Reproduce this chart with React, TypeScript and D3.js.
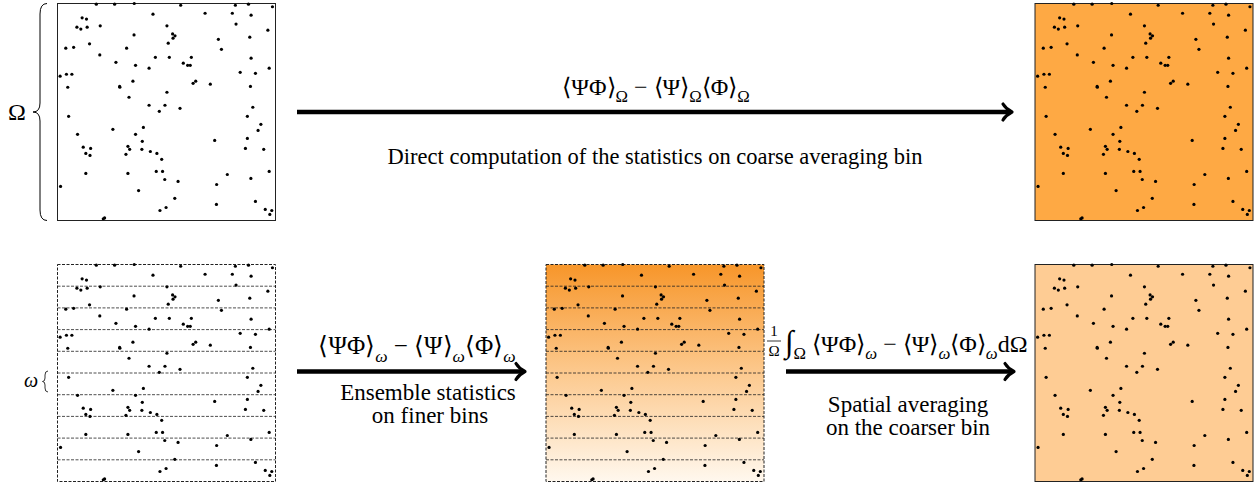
import React from "react";
import * as d3 from "d3";

const W = 1257;
const H = 487;
const FONT = "'Liberation Serif', 'Times New Roman', serif";

// particle positions, in % of the box (x from left, y from top)
const dots: [number, number][] = [
  [17.8, 0.3], [26.2, 0.3], [35.2, 0], [56.5, 0.8], [81.6, 0.8], [87.6, 0.3], [98.6, 1.5],
  [43.8, 4.9], [67.7, 4.5], [80.2, 4.5], [88.8, 5.4], [11.3, 6.6], [13.3, 7.2],
  [8.9, 10.9], [10.7, 11.8], [13.6, 10.9], [19.6, 10.3], [50.2, 10.3], [81.9, 9.5], [96.5, 12.3],
  [35.1, 14.5], [52.8, 14.0], [53.9, 14.9], [53.0, 16.0], [88.2, 15.5], [73.8, 16.5],
  [50.8, 18.3], [14.7, 18.6], [3.8, 20.6], [7.4, 20.2], [31.7, 20.6], [75.2, 21.1],
  [19.4, 23.7], [44.9, 24.8], [51.3, 24.8], [61.4, 24.8], [88.8, 25.2],
  [26.8, 27.1], [57.7, 27.5], [59.7, 28.5], [60.9, 28.5], [35.8, 28.5], [42.0, 29.8], [97.1, 29.8],
  [83.8, 31.7], [90.8, 32.2], [1.2, 33.5], [4.1, 32.6], [6.6, 32.6],
  [34.6, 35.8], [62.2, 36.8], [63.4, 35.8], [70.1, 37.2], [4.7, 38.6], [28.5, 38.2], [28.6, 38.6], [88.5, 38.2],
  [50.2, 40.9], [32.8, 43.2], [42.0, 46.9], [49.3, 46.9], [56.2, 48.3], [89.6, 47.8], [46.7, 49.7],
  [5.1, 52.0], [87.1, 52.0], [93.3, 55.7], [39.4, 57.1], [25.4, 58.0], [92.0, 58.5],
  [9.2, 60.3], [35.8, 60.3], [87.1, 62.2], [72.1, 63.1], [38.9, 63.5],
  [11.8, 66.2], [15.2, 66.8], [32.3, 65.8], [33.1, 67.2], [38.7, 67.2], [42.6, 68.2], [45.6, 69.1],
  [86.2, 66.8], [94.6, 67.2], [13.0, 69.1], [14.9, 70.0], [31.4, 69.5], [47.8, 71.8],
  [13.0, 78.3], [32.3, 78.3], [45.3, 77.4], [48.2, 77.4], [77.9, 78.8], [97.1, 77.4],
  [49.2, 81.1], [88.7, 80.6], [55.3, 82.0], [1.4, 84.3], [73.0, 83.4], [37.2, 86.2],
  [53.8, 89.8], [90.8, 91.2], [72.9, 92.6], [49.8, 94.0], [47.0, 95.4],
  [95.3, 94.9], [98.3, 95.4], [97.4, 97.2], [21.6, 98.8], [21.0, 99.2],
];

const nBins = 10;
const binLines = d3.range(1, nBins);

type Part = { t: string; sub?: boolean; it?: boolean; big?: boolean };

const coarseFormula: Part[] = [
  { t: "⟨ΨΦ⟩" }, { t: "Ω", sub: true }, { t: " − ⟨Ψ⟩" }, { t: "Ω", sub: true },
  { t: "⟨Φ⟩" }, { t: "Ω", sub: true },
];
const fineFormula: Part[] = [
  { t: "⟨ΨΦ⟩" }, { t: "ω", sub: true, it: true }, { t: " − ⟨Ψ⟩" }, { t: "ω", sub: true, it: true },
  { t: "⟨Φ⟩" }, { t: "ω", sub: true, it: true },
];
const avgFormula: Part[] = [
  { t: "∫", big: true }, { t: "Ω", sub: true }, { t: " ⟨ΨΦ⟩" }, { t: "ω", sub: true, it: true },
  { t: " − ⟨Ψ⟩" }, { t: "ω", sub: true, it: true }, { t: "⟨Φ⟩" }, { t: "ω", sub: true, it: true },
  { t: "dΩ" },
];

const BW = 218;
const BH = 217;

const boxes = [
  { x: 57.5, y: 3.5, fill: "#ffffff", dashed: false, bins: false },
  { x: 1035, y: 3.5, fill: "#fea944", dashed: false, bins: false },
  { x: 57.5, y: 264.5, fill: "#ffffff", dashed: true, bins: true },
  { x: 546, y: 264.5, fill: "url(#binGrad)", dashed: true, bins: true },
  { x: 1035, y: 264.5, fill: "#fecc94", dashed: false, bins: false },
];

function Formula({ x, y, size, parts, anchor = "middle" }: { x: number; y: number; size: number; parts: Part[]; anchor?: string }) {
  let down = false;
  const shift = size * 0.3;
  return (
    <text x={x} y={y} fontSize={size} fontFamily={FONT} textAnchor={anchor} fill="#000">
      {parts.map((p, i) => {
        let dy = 0;
        if (p.sub && !down) dy = shift;
        if (!p.sub && down) dy = -shift;
        down = !!p.sub;
        const fs = p.sub ? size * 0.7 : p.big ? size * 1.3 : size;
        return (
          <tspan key={i} dy={dy} fontSize={fs} fontStyle={p.it ? "italic" : undefined}>
            {p.t}
          </tspan>
        );
      })}
    </text>
  );
}

function Arrow({ x1, x2, y }: { x1: number; x2: number; y: number }) {
  const p = d3.path();
  p.moveTo(x2 - 9, y - 8);
  p.bezierCurveTo(x2 - 6, y - 3, x2 - 2, y - 1, x2, y);
  p.bezierCurveTo(x2 - 2, y + 1, x2 - 6, y + 3, x2 - 9, y + 8);
  return (
    <g>
      <line x1={x1} x2={x2 - 1.5} y1={y} y2={y} stroke="#000" strokeWidth={4.5} />
      <path d={p.toString()} fill="none" stroke="#000" strokeWidth={3.2} strokeLinecap="round" strokeLinejoin="round" />
    </g>
  );
}

function Box({ b }: { b: typeof boxes[number] }) {
  const sx = d3.scaleLinear().domain([0, 100]).range([b.x, b.x + BW]);
  const sy = d3.scaleLinear().domain([0, 100]).range([b.y, b.y + BH]);
  const by = d3.scaleLinear().domain([0, nBins]).range([b.y, b.y + BH]);
  return (
    <g>
      <rect x={b.x} y={b.y} width={BW} height={BH} fill={b.fill} stroke="#222" strokeWidth={1}
        strokeDasharray={b.dashed ? "3,1.5" : undefined} />
      {b.bins && binLines.map((i) => (
        <line key={i} x1={b.x} x2={b.x + BW} y1={by(i)} y2={by(i)} stroke="#222" strokeWidth={0.8} strokeDasharray="3,1.5" />
      ))}
      {dots.map(([u, v], i) => (
        <circle key={i} cx={sx(u)} cy={sy(v)} r={1.6} fill="#000" />
      ))}
    </g>
  );
}

export default function App() {
  const brace = d3.path();
  brace.moveTo(47, 3.5);
  brace.quadraticCurveTo(40, 3.5, 40, 14);
  brace.lineTo(40, 103);
  brace.quadraticCurveTo(40, 112, 33, 112);
  brace.quadraticCurveTo(40, 112, 40, 121);
  brace.lineTo(40, 210);
  brace.quadraticCurveTo(40, 220.5, 47, 220.5);

  const small = d3.path();
  small.moveTo(48, 371);
  small.quadraticCurveTo(45, 371, 45, 375);
  small.lineTo(45, 378);
  small.quadraticCurveTo(45, 381.5, 42.5, 381.5);
  small.quadraticCurveTo(45, 381.5, 45, 385);
  small.lineTo(45, 388);
  small.quadraticCurveTo(45, 392, 48, 392);

  return (
    <svg width={W} height={H} style={{ position: "absolute", left: 0, top: 0, background: "#fff" }}>
      <defs>
        <linearGradient id="binGrad" x1="0" y1="0" x2="0" y2="1">
          <stop offset="0" stopColor="#f7962a" />
          <stop offset="0.5" stopColor="#fcc98e" />
          <stop offset="1" stopColor="#fff8ee" />
        </linearGradient>
      </defs>
      {boxes.map((b, i) => <Box key={i} b={b} />)}

      <path d={brace.toString()} fill="none" stroke="#000" strokeWidth={1} />
      <text x={17} y={120} fontSize={24} fontFamily={FONT} textAnchor="middle">Ω</text>
      <path d={small.toString()} fill="none" stroke="#000" strokeWidth={0.8} />
      <text x={31} y={387} fontSize={20} fontFamily={FONT} fontStyle="italic" textAnchor="middle">ω</text>

      <Arrow x1={297} x2={1012} y={112} />
      <Formula x={656} y={95} size={24} parts={coarseFormula} />
      <text x={655} y={164} fontSize={22.5} fontFamily={FONT} textAnchor="middle">
        Direct computation of the statistics on coarse averaging bin
      </text>

      <Arrow x1={297} x2={525} y={371.5} />
      <Formula x={417} y={354} size={25} parts={fineFormula} />
      <text x={428} y={400} fontSize={23} fontFamily={FONT} textAnchor="middle">Ensemble statistics</text>
      <text x={430} y={423} fontSize={23} fontFamily={FONT} textAnchor="middle">on finer bins</text>

      <Arrow x1={786} x2={1014} y={371.5} />
      <text x={774} y={336} fontSize={15} fontFamily={FONT} textAnchor="middle">1</text>
      <line x1={767} x2={781} y1={341} y2={341} stroke="#000" strokeWidth={0.8} />
      <text x={774} y={356} fontSize={15} fontFamily={FONT} textAnchor="middle">Ω</text>
      <Formula x={785} y={352} size={24} parts={avgFormula} anchor="start" />
      <text x={908} y={412} fontSize={23} fontFamily={FONT} textAnchor="middle">Spatial averaging</text>
      <text x={908} y={435} fontSize={23} fontFamily={FONT} textAnchor="middle">on the coarser bin</text>
    </svg>
  );
}
